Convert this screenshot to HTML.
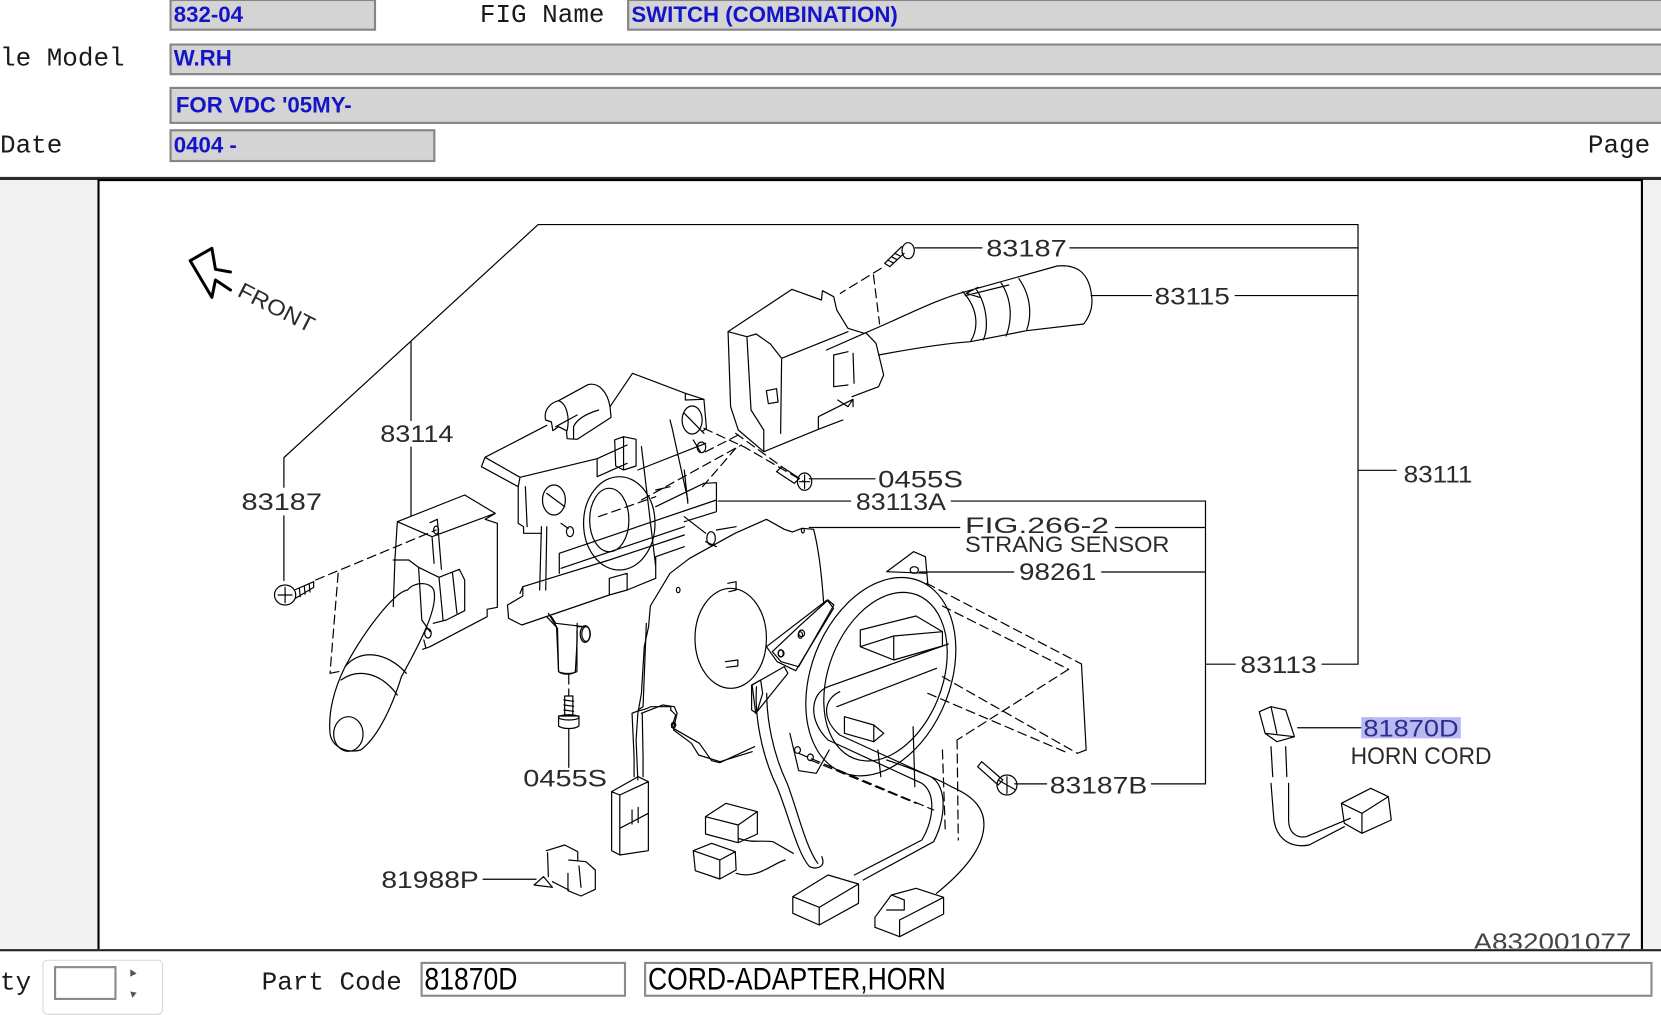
<!DOCTYPE html>
<html><head><meta charset="utf-8">
<style>
html,body{margin:0;padding:0;width:1661px;height:1007px;overflow:hidden;background:#fff}
#root{position:absolute;left:0;top:0;width:1568px;height:951px;transform:scale(1.05931);transform-origin:0 0;font-family:"Liberation Mono",monospace}
.lbl{position:absolute;font-size:24.5px;line-height:28px;color:#1a1a1a;white-space:nowrap}
.box{position:absolute;box-sizing:border-box;background:#d4d4d4;border:2px solid #858585;font-family:"Liberation Sans",Arial,sans-serif;font-weight:bold;font-size:21px;color:#1414c8;padding-left:2px;white-space:nowrap;overflow:hidden}
.fbox{position:absolute;box-sizing:border-box;background:#fff;border:2px solid #8a8a8a;height:33px;top:908px;font-family:"Liberation Sans",Arial,sans-serif;font-size:30px;line-height:29px;color:#000;white-space:nowrap;overflow:hidden}
.fbox span{display:inline-block;transform:scaleX(.835);transform-origin:0 50%;padding-left:2px}
svg *{vector-effect:non-scaling-stroke}
.d{stroke-dasharray:9 5}
</style></head><body>
<div id="root">
  <div class="box" style="left:160px;top:-1px;width:195px;height:30px;line-height:27px">832-04</div>
  <div class="lbl" style="left:453px;top:2px">FIG Name</div>
  <div class="box" style="left:592px;top:-1px;width:1000px;height:30px;line-height:27px">SWITCH (COMBINATION)</div>
  <div class="lbl" style="left:-73.5px;top:43px">Vehicle Model</div>
  <div class="box" style="left:160px;top:41px;width:1430px;height:30px;line-height:26px">W.RH</div>
  <div class="box" style="left:160px;top:82px;width:1430px;height:35px;line-height:31px;padding-left:4px">FOR VDC '05MY-</div>
  <div class="lbl" style="left:0px;top:125px">Date</div>
  <div class="box" style="left:160px;top:122px;width:251px;height:31px;line-height:27px">0404 -</div>
  <div class="lbl" style="left:1499px;top:125px">Page</div>

  <div style="position:absolute;left:0;top:167px;width:1568px;height:3px;background:#2b2b2b"></div>
  <div style="position:absolute;left:0;top:170px;width:92px;height:726px;background:#f2f2f2"></div>
  <div style="position:absolute;left:1551px;top:170px;width:17px;height:726px;background:#f2f2f2"></div>
  <div style="position:absolute;left:92px;top:169px;width:1459px;height:727px;box-sizing:border-box;border:2px solid #000;border-bottom:none"></div>
  <div style="position:absolute;left:0;top:896px;width:1568px;height:2px;background:#222"></div>

  <div class="lbl" style="left:-14.7px;top:915px">Qty</div>
  <div style="position:absolute;left:40px;top:906px;width:114px;height:52px;box-sizing:border-box;border:1px solid #d6d6d6;border-radius:5px;background:#fff"></div>
  <div style="position:absolute;left:51px;top:912px;width:59px;height:32px;box-sizing:border-box;border:2px solid #8a8a8a;background:#fff"></div>
  <svg style="position:absolute;left:118px;top:910px" width="16" height="36"><path d="M5,5 L11,9 L5,12Z M5,26 L11,27 L7,32Z" fill="#555"/></svg>
  <div class="lbl" style="left:247px;top:915px">Part Code</div>
  <div class="fbox" style="left:397px;width:194px"><span>81870D</span></div>
  <div class="fbox" style="left:608px;width:952px"><span>CORD-ADAPTER,HORN</span></div>
</div>

<svg style="position:absolute;left:0;top:0" width="1661" height="1007" viewBox="0 0 1661 1007">
<defs><clipPath id="fr"><rect x="99.5" y="181" width="1541.5" height="767.5"/></clipPath></defs>
<g clip-path="url(#fr)" fill="none" stroke="#000" stroke-width="1.2" stroke-linejoin="round" stroke-linecap="round">

<g transform="scale(1.05931)">
<path d="M268,548V487M268,460V432L508,212H1282V627M388,322V397M388,422V487M1010,234H1282M864,234H927M1030,279H1087M1166,279H1282M1282,444H1318M1248,627H1282M1138,627H1166M1138,473V740M678,473H803M898,473H1138M764,498H906M1053,498H1138M868,540H957M1040,540H1138M958,740H988M1087,740H1138M764,452H826M456,830H506M1225,687H1285"/>
<g font-family="Liberation Sans, sans-serif" font-size="23" fill="#2a2a2a" stroke="none">
<text x="931" y="242.3" textLength="76" lengthAdjust="spacingAndGlyphs">83187</text>
<text x="1090" y="287.3" textLength="71" lengthAdjust="spacingAndGlyphs">83115</text>
<text x="1325" y="455.3" textLength="65" lengthAdjust="spacingAndGlyphs">83111</text>
<text x="829" y="460.3" textLength="80" lengthAdjust="spacingAndGlyphs">0455S</text>
<text x="808" y="481.5" textLength="85" lengthAdjust="spacingAndGlyphs">83113A</text>
<text x="911" y="503" font-size="21" textLength="136" lengthAdjust="spacingAndGlyphs">FIG.266-2</text>
<text x="911" y="521" font-size="21" textLength="193" lengthAdjust="spacingAndGlyphs">STRANG SENSOR</text>
<text x="962" y="547.3" textLength="73" lengthAdjust="spacingAndGlyphs">98261</text>
<text x="1171" y="635.3" textLength="72" lengthAdjust="spacingAndGlyphs">83113</text>
<rect x="1285" y="677" width="94" height="20" fill="#b9b9f2"/>
<text x="1287" y="695.3" textLength="90" lengthAdjust="spacingAndGlyphs" fill="#2c2c8c">81870D</text>
<text x="1275" y="721.3" textLength="133" lengthAdjust="spacingAndGlyphs">HORN CORD</text>
<text x="991" y="749.3" textLength="92" lengthAdjust="spacingAndGlyphs">83187B</text>
<text x="359" y="417.3" textLength="69" lengthAdjust="spacingAndGlyphs">83114</text>
<text x="228" y="481.3" textLength="76" lengthAdjust="spacingAndGlyphs">83187</text>
<text x="494" y="742.3" textLength="79" lengthAdjust="spacingAndGlyphs">0455S</text>
<text x="360" y="838.3" textLength="92" lengthAdjust="spacingAndGlyphs">81988P</text>
<text x="1391" y="897" textLength="149" lengthAdjust="spacingAndGlyphs" fill="#444">A832001077</text>
<text transform="translate(223,279) rotate(27)" font-size="21" textLength="78" lengthAdjust="spacingAndGlyphs">FRONT</text>
</g>
</g>

<g transform="matrix(0.39541,0,0,0.33333,100,180)">
<path stroke-width="3" d="M283,205 L228,242 L283,352 L292,300 L330,330 M283,205 L292,268 L330,276"/>
</g>

<g transform="matrix(0.5102,0,0,0.33333,700,200)">
<ellipse cx="408" cy="152" rx="12" ry="24"/>
<path d="M395,140 L362,190 L372,200 L400,160 M368,180 L378,188 M375,170 L385,178 M382,160 L392,168"/>
<path class="d" d="M355,205 L275,280 M340,225 L352,372 M75,705 L5,760 M70,700 L160,800 M5,860 L70,745"/>
<path d="M55,395 L180,268 L238,300 L240,272 L262,290 L268,330 L290,385 L322,400
M55,395 L60,620 L75,690 L125,755 L232,688 L232,650 L300,598 L300,620
M55,395 L92,410 L110,402 L138,432 L160,475 L158,700
M160,475 L290,395 M92,410 L100,630 L125,690 L125,755
M130,572 L150,566 L153,606 L134,611 Z
M248,450 L325,398 L345,430 L360,525 L350,560 L298,590
M262,465 L290,455 M262,465 L262,560 L290,555 M300,460 L302,550
M232,688 L280,660 M270,600 L290,620 L300,598
M322,400 C400,350 460,300 520,275 L700,198
M350,465 C420,445 480,430 530,425 L640,392 L752,372
M700,198 C740,192 758,220 765,265 C772,310 768,340 752,372
M515,275 C548,330 545,390 530,425 M540,265 C565,320 565,390 555,420
M590,248 C612,300 612,360 600,408 M625,236 C650,290 650,350 640,392
M520,287 L605,255 M545,262 L522,280 L548,292"/>
<ellipse cx="205" cy="845" rx="14" ry="26"/>
<path d="M160,800 L195,835 L185,850 L150,815 Z M195,845 L215,845 M205,825 L205,865"/>
</g>

<g transform="matrix(0.35714,0,0,0.33333,470,360)">
<path d="M212,180 C205,150 225,128 248,122 L330,74 C360,66 385,95 392,140 L395,172 L300,238 L272,236 L270,212 L248,200 L232,212 L228,186 Z
M248,122 C270,130 280,170 272,212 M240,200 L300,165 M290,236 L290,200 C300,175 330,160 360,150
M42,292 L215,196 M392,140 L455,40 L603,100 L655,118 L662,205 L650,215
M42,292 L140,352 L356,296 L356,350 L440,310 M32,320 L135,380 L135,490 M42,292 L32,320 M140,352 L135,380
M356,296 L440,255 M603,100 L603,120 L655,118 M600,160 L655,220
M625,240 L645,275 M560,180 L565,200 L610,420 M600,330 L610,430
M405,240 L430,230 L465,238 L465,318 L430,330 L408,318 Z M430,230 L430,330
M215,400 L265,440 M255,490 L275,505
M655,370 L690,368 L690,455 L600,485 M655,370 L520,440
M105,735 L148,708 L148,680 L390,600 M105,735 L108,775 L145,795 L390,705 L390,655 L440,640 L440,690 L520,655 L520,590 L600,560
M148,680 L140,700 M440,690 L390,705
M200,500 L195,690 M215,500 L212,690 M250,580 L250,640
M250,580 L690,420 M255,625 L600,500 M390,600 L600,525
M135,490 L150,500 L150,520 L200,520 M155,380 L160,500 M480,260 L520,620 M520,390 L560,380 M470,330 L660,250
M245,805 L248,935 C260,945 285,945 295,935 L300,840 M225,765 L240,790 L320,800 M215,770 L245,805 M300,790 L300,840
M600,470 L660,520 M660,545 L690,560 M690,510 L745,500"/>
<ellipse cx="622" cy="180" rx="28" ry="42"/>
<ellipse cx="648" cy="262" rx="12" ry="16"/>
<ellipse cx="235" cy="420" rx="32" ry="45"/>
<ellipse cx="280" cy="515" rx="10" ry="15"/>
<ellipse cx="418" cy="490" rx="100" ry="140"/>
<ellipse cx="390" cy="480" rx="55" ry="95"/>
<ellipse cx="325" cy="822" rx="12" ry="22"/>
<ellipse cx="675" cy="535" rx="12" ry="20"/>
<path class="d" d="M655,205 L770,262 L935,365 M480,420 L760,255 M360,470 L520,410"/>
<path d="M505,738 L560,640 L615,595 L742,520 L830,478 L880,508 L903,516 L930,505 L962,508 C975,560 985,650 990,725
M505,738 L500,800 L488,860 L480,1000 L470,1060 L465,1140 L470,1260
M480,1060 L540,1035 L572,1040 L580,1060 L573,1090 L570,1110 L620,1150 L640,1185 L700,1205 L790,1175
M722,670 L745,665 L745,690 L725,695 M715,905 L750,900 L750,918 L718,922
M830,860 L1000,720 L1018,745 L912,932 L860,905 Z M790,975 L880,920 L890,940 L800,1060 Z"/>
<ellipse cx="730" cy="835" rx="100" ry="150"/>
<ellipse cx="583" cy="690" rx="5" ry="8"/>
<ellipse cx="932" cy="512" rx="4" ry="7"/>
<ellipse cx="568" cy="1095" rx="4" ry="7"/>
<ellipse cx="870" cy="880" rx="7" ry="11"/>
<ellipse cx="925" cy="825" rx="6" ry="10"/>
</g>

<g transform="matrix(0.58673,0,0,0.33333,740,520)">
<path d="M250,155 L296,95 L316,110 L320,190 M250,155 L318,160"/>
<ellipse cx="297" cy="150" rx="7" ry="10"/>
<ellipse cx="240" cy="470" rx="122" ry="300" transform="rotate(8 240 470)"/>
<ellipse cx="248" cy="470" rx="100" ry="255" transform="rotate(8 248 470)"/>
<path d="M150,240 L160,255 L100,440 L70,425 L55,395 L100,320 Z
M205,330 L300,288 L345,335 L345,378 L262,420 L205,380 Z M205,380 L262,348 L345,335 M262,348 L262,420
M150,500 L355,372 M165,560 L335,445
M178,590 L228,615 L245,640 L228,665 L178,640 Z M228,615 L228,665
M85,640 L100,752 L130,760 L152,690
M150,500 C120,520 115,600 150,660 L310,790 C335,820 330,900 310,960 L195,1065
M170,515 C140,540 140,600 170,645 L325,770 C355,800 350,900 330,965 L210,1080
M250,720 C300,750 340,780 360,800 C400,830 420,870 415,930 C410,1000 370,1070 335,1120
M582,432 L590,690 M575,700 L590,690 M295,620 L298,800 M235,690 L240,770"/>
<ellipse cx="105" cy="340" rx="5" ry="10"/>
<ellipse cx="70" cy="400" rx="5" ry="10"/>
<ellipse cx="98" cy="690" rx="5" ry="10"/>
<ellipse cx="120" cy="712" rx="5" ry="10"/>
<path class="d" d="M318,190 L582,432 M345,258 L560,448 M345,470 L575,700 M320,520 L560,700 M560,448 L370,660 M370,660 L372,960 M345,690 L350,940 M100,700 L330,870 M120,720 L300,850"/>
<ellipse cx="455" cy="795" rx="17" ry="30"/>
<path d="M440,780 L470,810 M455,770 L455,820 M412,725 L448,780 L440,795 L405,740 Z"/>
<path d="M90,1130 L150,1065 L202,1092 L202,1150 L135,1215 L90,1180 Z M90,1130 L135,1162 L202,1092 M135,1162 L135,1215
M230,1192 L258,1125 L300,1105 L347,1132 L347,1182 L272,1250 L230,1222 Z M258,1125 L280,1140 L280,1170 L250,1170 M272,1200 L347,1132 M272,1200 L272,1250"/>
<path d="M885,575 L905,560 L930,570 L945,650 L915,665 L895,640 Z M905,560 L915,640 M895,640 L945,650
M905,680 L908,770 M930,680 L932,770
M905,790 L910,900 C915,960 940,985 970,975 L1030,920 M935,790 L935,900 C935,940 950,955 965,950 L1040,895
M1025,850 L1075,805 L1105,830 L1110,900 L1060,940 L1030,910 Z M1025,850 L1060,880 L1105,830 M1060,880 L1060,940"/>
</g>

<g transform="matrix(0.40816,0,0,0.33333,230,480)">
<ellipse cx="135" cy="345" rx="26" ry="30"/>
<path d="M118,345 L152,345 M135,322 L135,368 M158,330 L205,305 M160,355 L205,322 M205,305 L205,322 M170,325 L172,350 M182,318 L184,343 M194,312 L196,336"/>
<path class="d" d="M210,300 L505,150 M265,280 L245,580 M245,580 L278,572"/>
<path d="M410,125 L575,45 L650,100 L625,118 L655,130 L655,382 L630,388 L630,410 L490,500 L472,508
M410,125 L404,240 L400,380 M410,125 L495,170 L650,100 M495,170 L500,250
M490,128 L508,118 L518,268
M400,240 L438,240 L462,262 L512,292 L562,268 L575,300 L575,392 L530,420 L498,430
M512,292 L522,420 M545,278 L556,400 M462,262 L470,420 L490,455 M475,480 L480,505
M435,330 C405,335 335,440 282,560 M500,335 C508,385 470,480 420,590 M435,330 C455,300 498,308 500,335
M282,560 C318,505 385,515 432,580 M272,600 C312,565 368,575 410,645
M282,560 C258,620 240,690 245,760 C250,805 290,820 320,810 C355,780 392,700 420,590"/>
<ellipse cx="505" cy="150" rx="6" ry="12"/>
<ellipse cx="485" cy="460" rx="8" ry="14"/>
<ellipse cx="290" cy="762" rx="36" ry="52"/>
<path class="d" d="M830,585 L830,645"/>
<path d="M820,648 L840,648 L840,705 L820,705 Z M818,660 L842,664 M818,675 L842,679 M818,690 L842,694
M805,708 L855,708 L855,738 C845,748 815,748 805,738 Z M830,748 L830,862"/>
<ellipse cx="830" cy="712" rx="25" ry="8"/>
<path d="M800,440 L805,575 C815,582 840,582 850,575 L850,452 M780,400 L800,440 M850,440 L875,440"/>
<ellipse cx="870" cy="462" rx="12" ry="25"/>
<path d="M1020,430 L1012,680 L1000,690 M1080,690 L1092,705 L1082,742 L1150,790 L1180,842 L1200,848 L1285,800
M985,700 L990,830 L990,890 M1010,700 L1012,830 L1012,890 M985,700 C1000,690 1020,690 1030,680 L1080,680 L1080,692
M935,935 L1000,890 L1025,905 L1025,1112 L955,1125 L935,1112 Z M935,935 L955,945 L1025,905 M955,945 L955,1125 M955,1045 L1025,1000 M985,990 L985,1032 M1000,982 L1000,1028
M1165,1010 L1215,970 L1292,995 L1292,1062 L1245,1088 L1165,1062 Z M1165,1010 L1245,1035 L1292,995 M1245,1035 L1245,1088
M1135,1112 L1180,1090 L1238,1115 L1240,1170 L1200,1197 L1140,1172 Z M1135,1112 L1200,1140 L1238,1115 M1200,1140 L1200,1197
M1245,1075 C1280,1090 1300,1080 1330,1085 L1380,1120 M1240,1180 C1290,1200 1330,1150 1360,1140
M1290,620 C1285,700 1300,820 1340,920 C1370,1010 1390,1120 1420,1160 C1440,1170 1460,1160 1450,1130
M1315,640 C1315,720 1330,820 1365,910 C1390,990 1410,1100 1440,1150
M1278,615 L1300,600 L1305,640 L1290,700 L1278,690 Z
M775,1112 L820,1095 L852,1115 L852,1142 M778,1118 L780,1190 M745,1215 L768,1190 L790,1222 Z
M830,1140 L872,1145 L895,1170 L895,1228 L860,1248 L828,1232 L828,1180 M855,1158 L860,1222 M790,1205 L830,1230"/>
<ellipse cx="1087" cy="735" rx="5" ry="8"/>
</g>

</g>
</svg>
</body></html>
